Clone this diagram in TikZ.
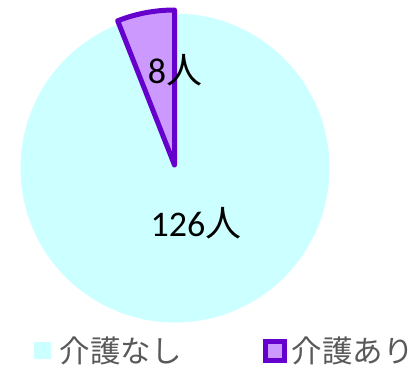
\documentclass[tikz,border=0pt]{standalone}
\usepackage{fontspec}
\setmainfont{Carlito}
\newfontfamily\jpfont{Noto Sans CJK JP}
\usetikzlibrary{positioning}
\definecolor{nashi}{HTML}{CCFFFF}
\definecolor{arifill}{HTML}{CC99FF}
\definecolor{ariline}{HTML}{6600CC}
\definecolor{keygray}{HTML}{595959}
\tikzset{
	count/.style={inner sep=0pt, font=\fontsize{36}{36}\selectfont},
	keytext/.style={inner sep=0pt, anchor=west, text=keygray, font=\jpfont\fontsize{30.5}{30.5}\selectfont},
	wedge/.style={fill=arifill, draw=ariline, line width=5pt, line join=round}
}
\begin{document}
\begin{tikzpicture}[x=1pt, y=1pt]
	\useasboundingbox (0,0) rectangle (410,365);
	
	\fill[nashi] (175,197) -- ++(111.5:154.5) arc (111.5:450:154.5) -- cycle;
	\draw[wedge] (174.5,200) -- ++(90:155) arc (90:111.5:155) -- cycle;
	
	\node (ari) [count] at (175,295) {8{\jpfont 人}};
	\node (nashi) [count] at (196,142) {126{\jpfont 人}};
	
	\node (keynashi) [rectangle, fill=nashi, minimum size=17pt, inner sep=0pt] at (42,14.5) {};
	\node (labelnashi) [keytext, right=9pt of keynashi] {介護なし};
	\node (keyari) [rectangle, fill=arifill, draw=ariline, line width=4.5pt, minimum size=19pt, inner sep=0pt] at (275,14) {};
	\node (labelari) [keytext, right=5pt of keyari] {介護あり};
\end{tikzpicture}
\end{document}
